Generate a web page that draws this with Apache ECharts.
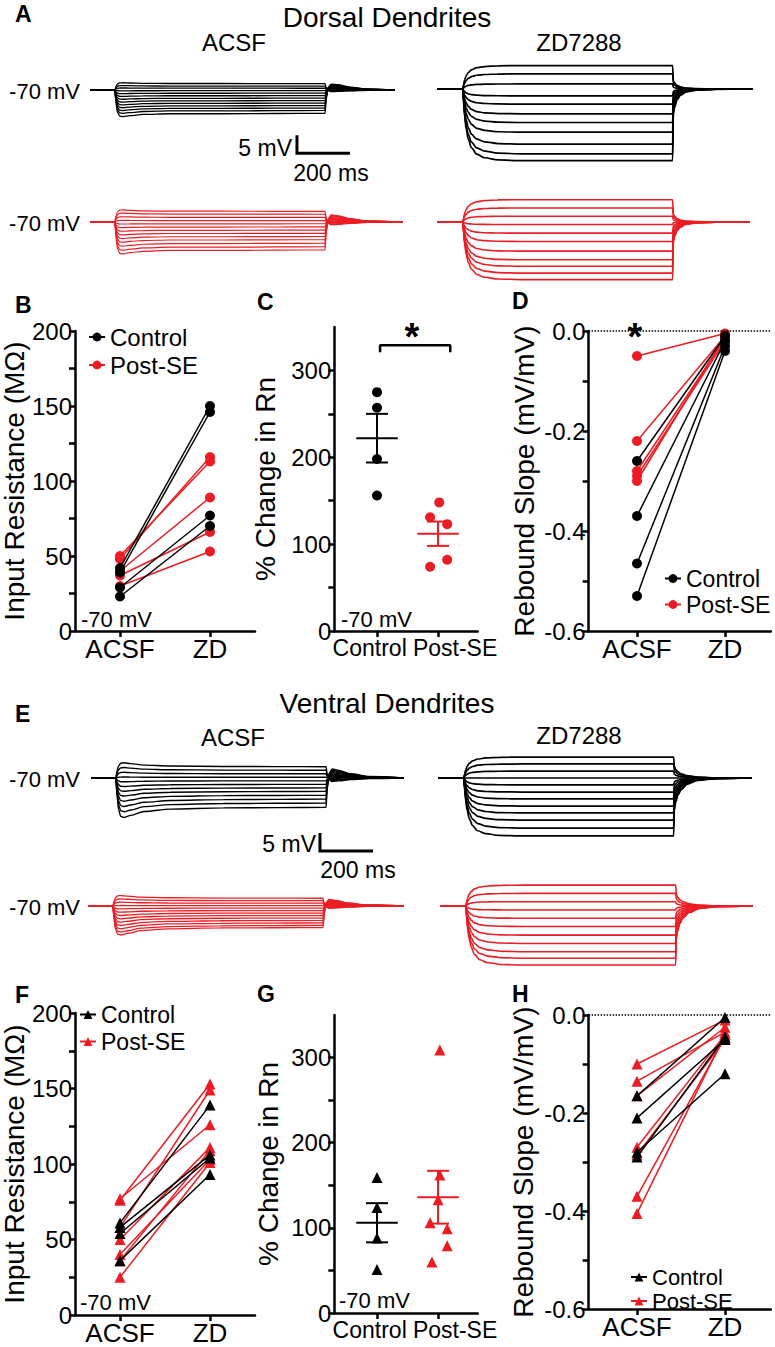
<!DOCTYPE html>
<html><head><meta charset="utf-8">
<script src="https://cdn.jsdelivr.net/npm/echarts@6/dist/echarts.min.js"></script>
<style>html,body{margin:0;padding:0;background:#fff}#c{width:775px;height:1347px}</style>
</head><body><div id="c"></div>
<script>
// ================= DATA =================
const condLabels = ['ACSF', 'ZD'];
const groupLabels = ['Control', 'Post-SE'];
const slopeTickLabels = [0, -0.2, -0.4, -0.6];

// Traces: steady-state deflection of each step (mV relative to -70 mV)
const dorsalAcsfCtl = [1.8, 1.1, 0.5, -0.2, -0.9, -1.6, -2.3, -3.0, -3.7, -4.4, -5.1, -5.8, -6.6];
const dorsalZdCtl   = [6.5, 4.2, 1.4, -1.9, -4.2, -6.9, -9.3, -12.0, -15.3, -18.0, -19.9];
const dorsalAcsfSE  = [3.0, 2.2, 1.3, 0.4, -0.5, -1.4, -2.3, -3.2, -4.1, -5.0, -6.0, -7.0, -7.9];
const dorsalZdSE    = [6.2, 3.9, 1.6, -0.7, -3.1, -5.4, -8.1, -10.5, -12.3, -14.2, -16.0];
const ventralAcsfCtl = [3.2, 2.2, 1.2, 0.2, -0.8, -1.8, -2.8, -3.8, -4.9, -6.0, -7.1, -8.3];
const ventralZdCtl   = [5.8, 3.9, 1.9, 0, -1.9, -3.9, -5.8, -7.8, -9.7, -11.7, -13.9, -16.1];
const ventralAcsfSE  = [2.2, 1.5, 0.8, 0.1, -0.6, -1.3, -2.0, -2.7, -3.4, -4.1, -4.8, -5.5, -6.1];
const ventralZdSE    = [5.8, 3.5, 1.2, -1.1, -3.4, -5.7, -8.1, -10.4, -12.7, -14.5, -16.4];

// Normalised waveforms (time in ms, fraction of steady deflection)
const acsfTime   = [0, 94, 98, 104, 112, 125, 150, 200, 300, 500, 700, 887, 891, 898, 910, 935, 980, 1050];
const acsfFracD  = [0, 0, 0.55, 0.95, 1.1, 1.12, 1.08, 1.03, 1.0, 1.0, 0.99, 0.98, 0.4, -0.1, -0.25, -0.22, -0.12, -0.04];
const acsfFracV  = [0, 0, 0.6, 1.05, 1.28, 1.32, 1.25, 1.12, 1.04, 1.0, 0.99, 0.98, 0.4, -0.15, -0.3, -0.25, -0.14, -0.05];
const zdTime     = [0, 97, 100, 104, 110, 118, 130, 150, 180, 230, 320, 889, 892, 897, 905, 918, 940, 980, 1050];
const zdFracD    = [0, 0, 0.18, 0.38, 0.56, 0.7, 0.82, 0.91, 0.96, 0.99, 1.0, 1.0, 0.35, 0.25, 0.16, 0.09, 0.04, 0.015, 0.004];
const zdFracV    = [0, 0, 0.18, 0.38, 0.56, 0.7, 0.82, 0.91, 0.96, 0.99, 1.0, 1.0, 0.55, 0.42, 0.3, 0.2, 0.11, 0.04, 0.01];
const scaleBar = [5, 200]; // mV, ms

// B: dorsal input resistance (MΩ)
const bCtlAcsf = [42, 39, 29, 23];
const bCtlZd   = [150, 146, 77, 70];
const bSeAcsf  = [48, 50, 40, 37, 30];
const bSeZd    = [116, 113, 89, 66, 53];
// C: dorsal % change in Rn
const cCtl = [275, 257, 198, 156];
const cCtlJit = [0, 0, 0, 0];
const cSe = [148, 131, 123, 82, 74];
const cSeJit = [0.02, -0.13, 0.15, 0.15, -0.13];
const cMean = [222, 112];
const cSem = [28, 14];
const cSig = [321, 329]; // bracket foot / top
// D: dorsal rebound slope (mV/mV)
const dCtlAcsf = [-0.26, -0.37, -0.465, -0.53];
const dCtlZd   = [-0.01, -0.02, -0.03, -0.04];
const dSeAcsf  = [-0.05, -0.22, -0.28, -0.29, -0.30];
const dSeZd    = [-0.005, -0.01, -0.015, -0.02, -0.01];
// F: ventral input resistance (MΩ)
const fCtlAcsf = [61, 58, 54, 36];
const fCtlZd   = [139, 106, 104, 93];
const fSeAcsf  = [77, 76, 58, 50, 40, 36, 25];
const fSeZd    = [126, 153, 149, 111, 103, 109, 101];
// G: ventral % change in Rn
const gCtl = [159, 124, 88, 51];
const gCtlJit = [0, 0, 0, 0];
const gSe = [309, 162, 133, 106, 99, 79, 60];
const gSeJit = [0.03, 0.03, 0, -0.13, 0.15, 0.15, -0.1];
const gMean = [106, 136];
const gSem = [23, 31];
// H: ventral rebound slope (mV/mV)
const hCtlAcsf = [-0.165, -0.21, -0.28, -0.29];
const hCtlZd   = [-0.005, -0.05, -0.12, -0.045];
const hSeAcsf  = [-0.10, -0.135, -0.165, -0.27, -0.285, -0.37, -0.405];
const hSeZd    = [-0.01, -0.035, -0.025, -0.04, -0.05, -0.045, -0.04];

// ================= STYLE / LAYOUT =================
const FONT = 'Liberation Sans, Arial, Helvetica, sans-serif';
const BLACK = '#000', RED = '#ec1c24';
const PX_MS = 0.265, PX_MV = 3.6, V_TOP = 10, V_BOT = -25;
const TICK_FS = 24, NAME_FS = 28;

const grids = [], xAxes = [], yAxes = [], series = [], graphics = [], legends = [];

function traceGrid(x0, baseY, tMax) {
  const gi = grids.length;
  grids.push({left: x0, top: baseY - V_TOP * PX_MV, width: tMax * PX_MS, height: (V_TOP - V_BOT) * PX_MV, containLabel: false, outerBoundsMode: 'none'});
  xAxes.push({gridIndex: gi, type: 'value', min: 0, max: tMax, show: false});
  yAxes.push({gridIndex: gi, type: 'value', min: V_BOT, max: V_TOP, show: false});
  return gi;
}
function addTraces(gi, levels, times, fracs, tMax, color, width) {
  levels.forEach(lv => {
    const d = times.map((t, j) => [t, lv * fracs[j]]);
    d.push([tMax, 0]);
    series.push({type: 'line', name: 'trace', xAxisIndex: gi, yAxisIndex: gi, data: d, symbol: 'none',
      smooth: 0.3, smoothMonotone: 'x', lineStyle: {color, width}, silent: true, z: 2});
  });
}
function addScaleBar(gi, t0, v0) {
  series.push({type: 'line', name: 'scale', xAxisIndex: gi, yAxisIndex: gi, symbol: 'none', silent: true,
    data: [[t0, v0], [t0, v0 - scaleBar[0]], [t0 + scaleBar[1], v0 - scaleBar[0]]],
    lineStyle: {color: BLACK, width: 3, cap: 'butt', join: 'miter'}});
}
function nearestLabel(vals, texts) {
  return v => { let bi = 0; vals.forEach((x, i) => { if (Math.abs(x - v) < Math.abs(vals[bi] - v)) bi = i; }); return texts[bi]; };
}
function addPlot(p) {
  const gi = grids.length;
  grids.push({left: p.left, top: p.top, width: p.width, height: p.height, containLabel: false, outerBoundsMode: 'none'});
  xAxes.push({gridIndex: gi, type: 'value', min: p.xMin, max: p.xMax,
    axisLine: {show: true, onZero: false, lineStyle: {color: BLACK, width: 2.5}},
    axisTick: {show: true, length: 6, lineStyle: {color: BLACK, width: 2.5}, customValues: p.xTicks},
    axisLabel: {show: true, customValues: p.xLabelVals, formatter: nearestLabel(p.xLabelVals, p.xLabelTexts),
      fontSize: p.catFs, color: BLACK, fontFamily: FONT, margin: 5},
    splitLine: {show: false}});
  yAxes.push({gridIndex: gi, type: 'value', min: p.yMin, max: p.yMax,
    name: p.yName, nameLocation: 'middle', nameGap: p.nameGap, nameRotate: 90,
    nameTextStyle: {fontSize: NAME_FS, color: BLACK, fontFamily: FONT},
    axisLine: {show: true, onZero: false, lineStyle: {color: BLACK, width: 2.5}},
    axisTick: {show: true, length: 6, lineStyle: {color: BLACK, width: 2.5}, customValues: p.yTicks},
    axisLabel: {show: true, customValues: p.yLabelVals, formatter: p.yFmt, fontSize: TICK_FS, color: BLACK, fontFamily: FONT, margin: 3},
    splitLine: {show: false}});
  return gi;
}
function addPairs(gi, acsf, zd, name, color, symbol) {
  acsf.forEach((a, i) => series.push({type: 'line', name, xAxisIndex: gi, yAxisIndex: gi,
    data: [[0, a], [1, zd[i]]], symbol, symbolSize: symbol === 'triangle' ? 11 : 10,
    itemStyle: {color, opacity: 1}, lineStyle: {color, width: 1.5}, silent: true, z: color === RED ? 3 : 4}));
}
function addDots(gi, idx, vals, jit, color, symbol) {
  series.push({type: 'scatter', name: 'dots', xAxisIndex: gi, yAxisIndex: gi, symbol,
    symbolSize: symbol === 'triangle' ? 11 : 10, itemStyle: {color, opacity: 1}, silent: true,
    data: vals.map((v, i) => [idx + jit[i], v])});
}
function addMeanSem(gi, mean, sem, colors) {
  mean.forEach((m, i) => {
    const s = sem[i], c = colors[i];
    [[[i - 0.34, m], [i + 0.34, m]], [[i, m - s], [i, m + s]], [[i - 0.18, m + s], [i + 0.18, m + s]], [[i - 0.18, m - s], [i + 0.18, m - s]]]
      .forEach(seg => series.push({type: 'line', name: 'err', xAxisIndex: gi, yAxisIndex: gi, data: seg, symbol: 'none', silent: true,
        lineStyle: {color: c, width: 2}}));
  });
}
function text(t, x, y, size, opts) {
  opts = opts || {};
  graphics.push({type: 'text', x, y, silent: true, style: {text: t, fontSize: size, fontFamily: FONT,
    fontWeight: opts.bold ? 'bold' : 'normal', fill: BLACK, align: opts.align || 'left', verticalAlign: 'middle'}});
}
function legend(names, left, top, gap, fs) {
  legends.push({data: names, orient: 'vertical', left, top, itemGap: gap, itemWidth: 16, itemHeight: 11,
    selectedMode: false, formatter: n => n.trim(), textStyle: {fontSize: fs, color: BLACK, fontFamily: FONT}});
}

const rnTicks = [0, 25, 50, 75, 100, 125, 150, 175, 200];
const rnLabels = [0, 50, 100, 150, 200];
const pctTicks = [0, 50, 100, 150, 200, 250, 300];
const pctLabels = [0, 100, 200, 300];
const slopeTicks = [0, -0.1, -0.2, -0.3, -0.4, -0.5, -0.6];

// ---------- B / C / D (dorsal) ----------
const gB = addPlot({left: 75, top: 331, width: 180, height: 300, xMin: -0.5, xMax: 1.5, xTicks: [0, 1], xLabelVals: [0, 1], xLabelTexts: condLabels, catFs: 26,
  yMin: 0, yMax: 200, yTicks: rnTicks, yLabelVals: rnLabels, yFmt: v => String(v), yName: 'Input Resistance (MΩ)', nameGap: 45});
addPairs(gB, bCtlAcsf, bCtlZd, 'Control', BLACK, 'circle');
addPairs(gB, bSeAcsf, bSeZd, 'Post-SE', RED, 'circle');

const gC = addPlot({left: 334.3, top: 327, width: 143.4, height: 304, xMin: -0.7, xMax: 1.65, xTicks: [0, 1], xLabelVals: [-0.12, 1.28], xLabelTexts: groupLabels, catFs: 23,
  yMin: 0, yMax: 350, yTicks: pctTicks, yLabelVals: pctLabels, yFmt: v => String(v), yName: '% Change in Rn', nameGap: 55});
addDots(gC, 0, cCtl, cCtlJit, BLACK, 'circle');
addDots(gC, 1, cSe, cSeJit, RED, 'circle');
addMeanSem(gC, cMean, cSem, [BLACK, RED]);
series.push({type: 'line', name: 'sig', xAxisIndex: gC, yAxisIndex: gC, symbol: 'none', silent: true,
  data: [[0.05, cSig[0]], [0.05, cSig[1]], [1.2, cSig[1]], [1.2, cSig[0]]], lineStyle: {color: BLACK, width: 2.5}});

const gD = addPlot({left: 588.6, top: 331, width: 182.2, height: 300, xMin: -0.55, xMax: 1.52, xTicks: [0, 1], xLabelVals: [0, 1], xLabelTexts: condLabels, catFs: 26,
  yMin: -0.6, yMax: 0, yTicks: slopeTicks, yLabelVals: slopeTickLabels, yFmt: v => v.toFixed(1), yName: 'Rebound Slope (mV/mV)', nameGap: 50});
series.push({type: 'line', name: 'zero', xAxisIndex: gD, yAxisIndex: gD, data: [], symbol: 'none',
  markLine: {silent: true, symbol: ['none', 'none'], label: {show: false}, lineStyle: {type: 'dotted', color: BLACK, width: 1.5}, data: [{yAxis: 0}]}});
addPairs(gD, dSeAcsf, dSeZd, 'Post-SE', RED, 'circle');
addPairs(gD, dCtlAcsf, dCtlZd, 'Control', BLACK, 'circle');

// ---------- F / G / H (ventral) ----------
const gF = addPlot({left: 75, top: 1013, width: 180, height: 302, xMin: -0.5, xMax: 1.5, xTicks: [0, 1], xLabelVals: [0, 1], xLabelTexts: condLabels, catFs: 26,
  yMin: 0, yMax: 200, yTicks: rnTicks, yLabelVals: rnLabels, yFmt: v => String(v), yName: 'Input Resistance (MΩ)', nameGap: 45});
addPairs(gF, fCtlAcsf, fCtlZd, 'Control ', BLACK, 'triangle');
addPairs(gF, fSeAcsf, fSeZd, 'Post-SE ', RED, 'triangle');

const gG = addPlot({left: 334.3, top: 1015, width: 143.4, height: 298, xMin: -0.7, xMax: 1.65, xTicks: [0, 1], xLabelVals: [-0.12, 1.28], xLabelTexts: groupLabels, catFs: 23,
  yMin: 0, yMax: 350, yTicks: pctTicks, yLabelVals: pctLabels, yFmt: v => String(v), yName: '% Change in Rn', nameGap: 52});
addDots(gG, 0, gCtl, gCtlJit, BLACK, 'triangle');
addDots(gG, 1, gSe, gSeJit, RED, 'triangle');
addMeanSem(gG, gMean, gSem, [BLACK, RED]);

const gH = addPlot({left: 588.6, top: 1015, width: 182.2, height: 294, xMin: -0.55, xMax: 1.52, xTicks: [0, 1], xLabelVals: [0, 1], xLabelTexts: condLabels, catFs: 26,
  yMin: -0.6, yMax: 0, yTicks: slopeTicks, yLabelVals: slopeTickLabels, yFmt: v => v.toFixed(1), yName: 'Rebound Slope (mV/mV)', nameGap: 51});
series.push({type: 'line', name: 'zero', xAxisIndex: gH, yAxisIndex: gH, data: [], symbol: 'none',
  markLine: {silent: true, symbol: ['none', 'none'], label: {show: false}, lineStyle: {type: 'dotted', color: BLACK, width: 1.5}, data: [{yAxis: 0}]}});
addPairs(gH, hSeAcsf, hSeZd, 'Post-SE ', RED, 'triangle');
addPairs(gH, hCtlAcsf, hCtlZd, 'Control ', BLACK, 'triangle');

// ---------- Traces ----------
const tA1 = traceGrid(90, 90, 1150);  addTraces(tA1, dorsalAcsfCtl, acsfTime, acsfFracD, 1150, BLACK, 1.3);
addScaleBar(tA1, 781, -12.6);
const tA2 = traceGrid(437, 89, 1190); addTraces(tA2, dorsalZdCtl, zdTime, zdFracD, 1190, BLACK, 1.7);
const tA3 = traceGrid(90, 222, 1180); addTraces(tA3, dorsalAcsfSE, acsfTime, acsfFracD, 1180, RED, 1.2);
const tA4 = traceGrid(437, 222, 1180); addTraces(tA4, dorsalZdSE, zdTime, zdFracD, 1180, RED, 1.6);
const tE1 = traceGrid(91, 778, 1180); addTraces(tE1, ventralAcsfCtl, acsfTime, acsfFracV, 1180, BLACK, 1.4);
addScaleBar(tE1, 864, -15.3);
const tE2 = traceGrid(438, 778, 1185); addTraces(tE2, ventralZdCtl, zdTime, zdFracV, 1185, BLACK, 1.7);
const tE3 = traceGrid(88, 906, 1190); addTraces(tE3, ventralAcsfSE, acsfTime, acsfFracV, 1190, RED, 1.3);
const tE4 = traceGrid(440, 906, 1180); addTraces(tE4, ventralZdSE, zdTime, zdFracV, 1180, RED, 1.6);

// ---------- Legends ----------
legend(['Control', 'Post-SE'], 83, 320, 4, 24);
legend(['Control', 'Post-SE'], 659, 562, 3, 23);
legend(['Control ', 'Post-SE '], 74, 998, 4, 23);
legend(['Control ', 'Post-SE '], 625, 1261, 2, 22);

// ---------- Text ----------
text('A', 15, 14, 23, {bold: true});
text('Dorsal Dendrites', 387, 17, 28, {align: 'center'});
text('ACSF', 234, 42, 24, {align: 'center'});
text('ZD7288', 579, 42, 24, {align: 'center'});
text('-70 mV', 80, 91, 22, {align: 'right'});
text('-70 mV', 80, 223, 22, {align: 'right'});
text('5 mV', 292, 148, 23, {align: 'right'});
text('200 ms', 331, 173, 23, {align: 'center'});
text('B', 15, 305, 23, {bold: true});
text('C', 257, 302, 23, {bold: true});
text('D', 512, 301, 23, {bold: true});
text('-70 mV', 81, 619, 22);
text('-70 mV', 341, 619, 22);
text('*', 412, 337, 38, {align: 'center', bold: true});
text('*', 635, 337, 38, {align: 'center', bold: true});
text('E', 15, 714, 23, {bold: true});
text('Ventral Dendrites', 387, 703, 28, {align: 'center'});
text('ACSF', 233, 737, 24, {align: 'center'});
text('ZD7288', 579, 735, 24, {align: 'center'});
text('-70 mV', 80, 779, 22, {align: 'right'});
text('-70 mV', 80, 907, 22, {align: 'right'});
text('5 mV', 316, 844, 23, {align: 'right'});
text('200 ms', 358, 870, 23, {align: 'center'});
text('F', 15, 995, 23, {bold: true});
text('G', 257, 994, 23, {bold: true});
text('H', 512, 994, 23, {bold: true});
text('-70 mV', 80, 1302, 22);
text('-70 mV', 339, 1300, 22);

const chart = echarts.init(document.getElementById('c'), null, {renderer: 'svg', width: 775, height: 1347});
chart.setOption({
  animation: false,
  backgroundColor: '#fff',
  textStyle: {fontFamily: FONT},
  grid: grids, xAxis: xAxes, yAxis: yAxes, series, legend: legends, graphic: graphics
});
</script></body></html>
